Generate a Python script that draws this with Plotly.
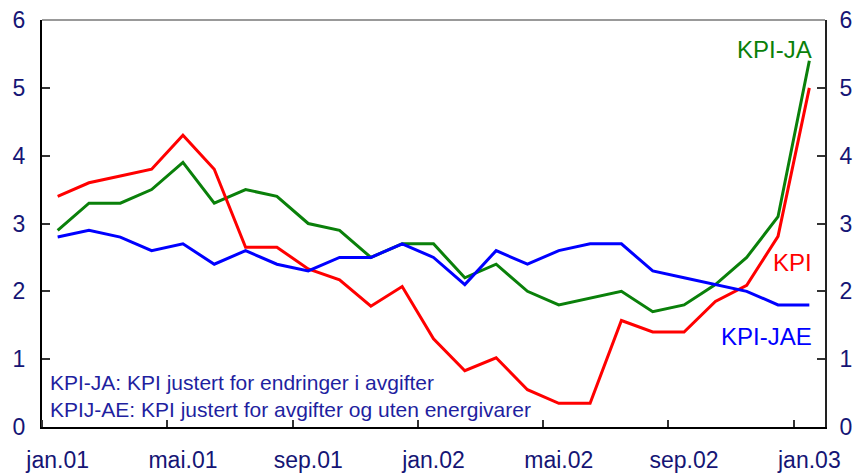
import plotly.graph_objects as go

months = ["jan.01","feb.01","mar.01","apr.01","mai.01","jun.01","jul.01","aug.01","sep.01","okt.01","nov.01","des.01",
          "jan.02","feb.02","mar.02","apr.02","mai.02","jun.02","jul.02","aug.02","sep.02","okt.02","nov.02","des.02","jan.03"]
kpi = [3.4,3.6,3.7,3.8,4.3,3.8,2.65,2.65,2.33,2.17,1.78,2.07,
       1.3,0.83,1.02,0.55,0.35,0.35,1.57,1.4,1.4,1.85,2.09,2.81,5.0]
kpi_ja = [2.9,3.3,3.3,3.5,3.9,3.3,3.5,3.4,3.0,2.9,2.5,2.7,
          2.7,2.2,2.4,2.0,1.8,1.9,2.0,1.7,1.8,2.1,2.5,3.1,5.4]
kpi_jae = [2.8,2.9,2.8,2.6,2.7,2.4,2.6,2.4,2.3,2.5,2.5,2.7,
           2.5,2.1,2.6,2.4,2.6,2.7,2.7,2.3,2.2,2.1,2.0,1.8,1.8]
tick_labels = ["jan.01","mai.01","sep.01","jan.02","mai.02","sep.02","jan.03"]
y_ticks = [0,1,2,3,4,5,6]

x = list(range(len(months)))
tick_pos = [months.index(t) for t in tick_labels]

NAVY = "#151575"
FONT = "Liberation Sans, Arial, sans-serif"
TICKSIZE = 23

fig = go.Figure()
fig.add_trace(go.Scatter(x=x, y=kpi_ja, mode="lines", line=dict(color="#0a800a", width=3), name="KPI-JA"))
fig.add_trace(go.Scatter(x=x, y=kpi, mode="lines", line=dict(color="#ff0000", width=3), name="KPI"))
fig.add_trace(go.Scatter(x=x, y=kpi_jae, mode="lines", line=dict(color="#0000ff", width=3), name="KPI-JAE"))
fig.add_trace(go.Scatter(x=x, y=kpi_jae, mode="lines", line=dict(color="rgba(0,0,0,0)", width=0),
                         yaxis="y2", showlegend=False, hoverinfo="skip"))

fig.update_layout(
    width=860, height=474,
    margin=dict(l=42, r=35, t=20, b=47),
    paper_bgcolor="white", plot_bgcolor="white",
    showlegend=False,
    font=dict(family=FONT, color=NAVY, size=20),
    xaxis=dict(
        range=[-0.5, len(months) - 0.5], automargin=False,
        tickvals=tick_pos, ticktext=tick_labels,
        ticks="", showgrid=False, zeroline=False,
        showline=True, linecolor="black", linewidth=2,
        ticklabelstandoff=11, ticklabeloverflow="allow",
        tickfont=dict(size=TICKSIZE, color=NAVY, family=FONT),
        minor=dict(tick0=3.5, dtick=4, ticks="inside", ticklen=7, tickcolor="#333333", tickwidth=1.5, showgrid=False),
    ),
    yaxis=dict(
        range=[0, 6], tickvals=y_ticks, ticks="inside", ticklen=8, tickcolor="#333333", tickwidth=1.5,
        automargin=False, ticklabeloverflow="allow",
        showgrid=False, zeroline=False, showline=True, linecolor="black", linewidth=2,
        ticklabelstandoff=10, tickfont=dict(size=TICKSIZE, color=NAVY, family=FONT),
    ),
    yaxis2=dict(
        range=[0, 6], tickvals=y_ticks, ticks="inside", ticklen=8, tickcolor="#333333", tickwidth=1.5,
        overlaying="y", side="right", automargin=False, ticklabeloverflow="allow",
        showgrid=False, zeroline=False, showline=True, linecolor="#222222", linewidth=2,
        ticklabelstandoff=8, tickfont=dict(size=TICKSIZE, color=NAVY, family=FONT),
    ),
    shapes=[dict(type="line", xref="paper", yref="paper", x0=0, x1=1, y0=1, y1=1,
                 line=dict(color="#777777", width=1.5))],
    annotations=[
        dict(x=0.986, y=5.56, xref="paper", yref="y", text="KPI-JA", showarrow=False, xanchor="right",
             font=dict(color="#0a800a", size=24, family=FONT)),
        dict(x=0.986, y=2.43, xref="paper", yref="y", text="KPI", showarrow=False, xanchor="right",
             font=dict(color="#ff0000", size=24, family=FONT)),
        dict(x=0.986, y=1.33, xref="paper", yref="y", text="KPI-JAE", showarrow=False, xanchor="right",
             font=dict(color="#0000ff", size=24, family=FONT)),
        dict(x=0.008, y=0.45, xref="paper", yref="y", xanchor="left",
             text="KPI-JA: KPI justert for endringer i avgifter<br>KPIJ-AE: KPI justert for avgifter og uten energivarer",
             showarrow=False, align="left", font=dict(color="#1f1fa0", size=21, family=FONT)),
    ],
)

fig.write_html("out.html", config={"responsive": False, "displayModeBar": False},
               post_script="document.body.style.margin='0';document.body.style.overflow='hidden';")
